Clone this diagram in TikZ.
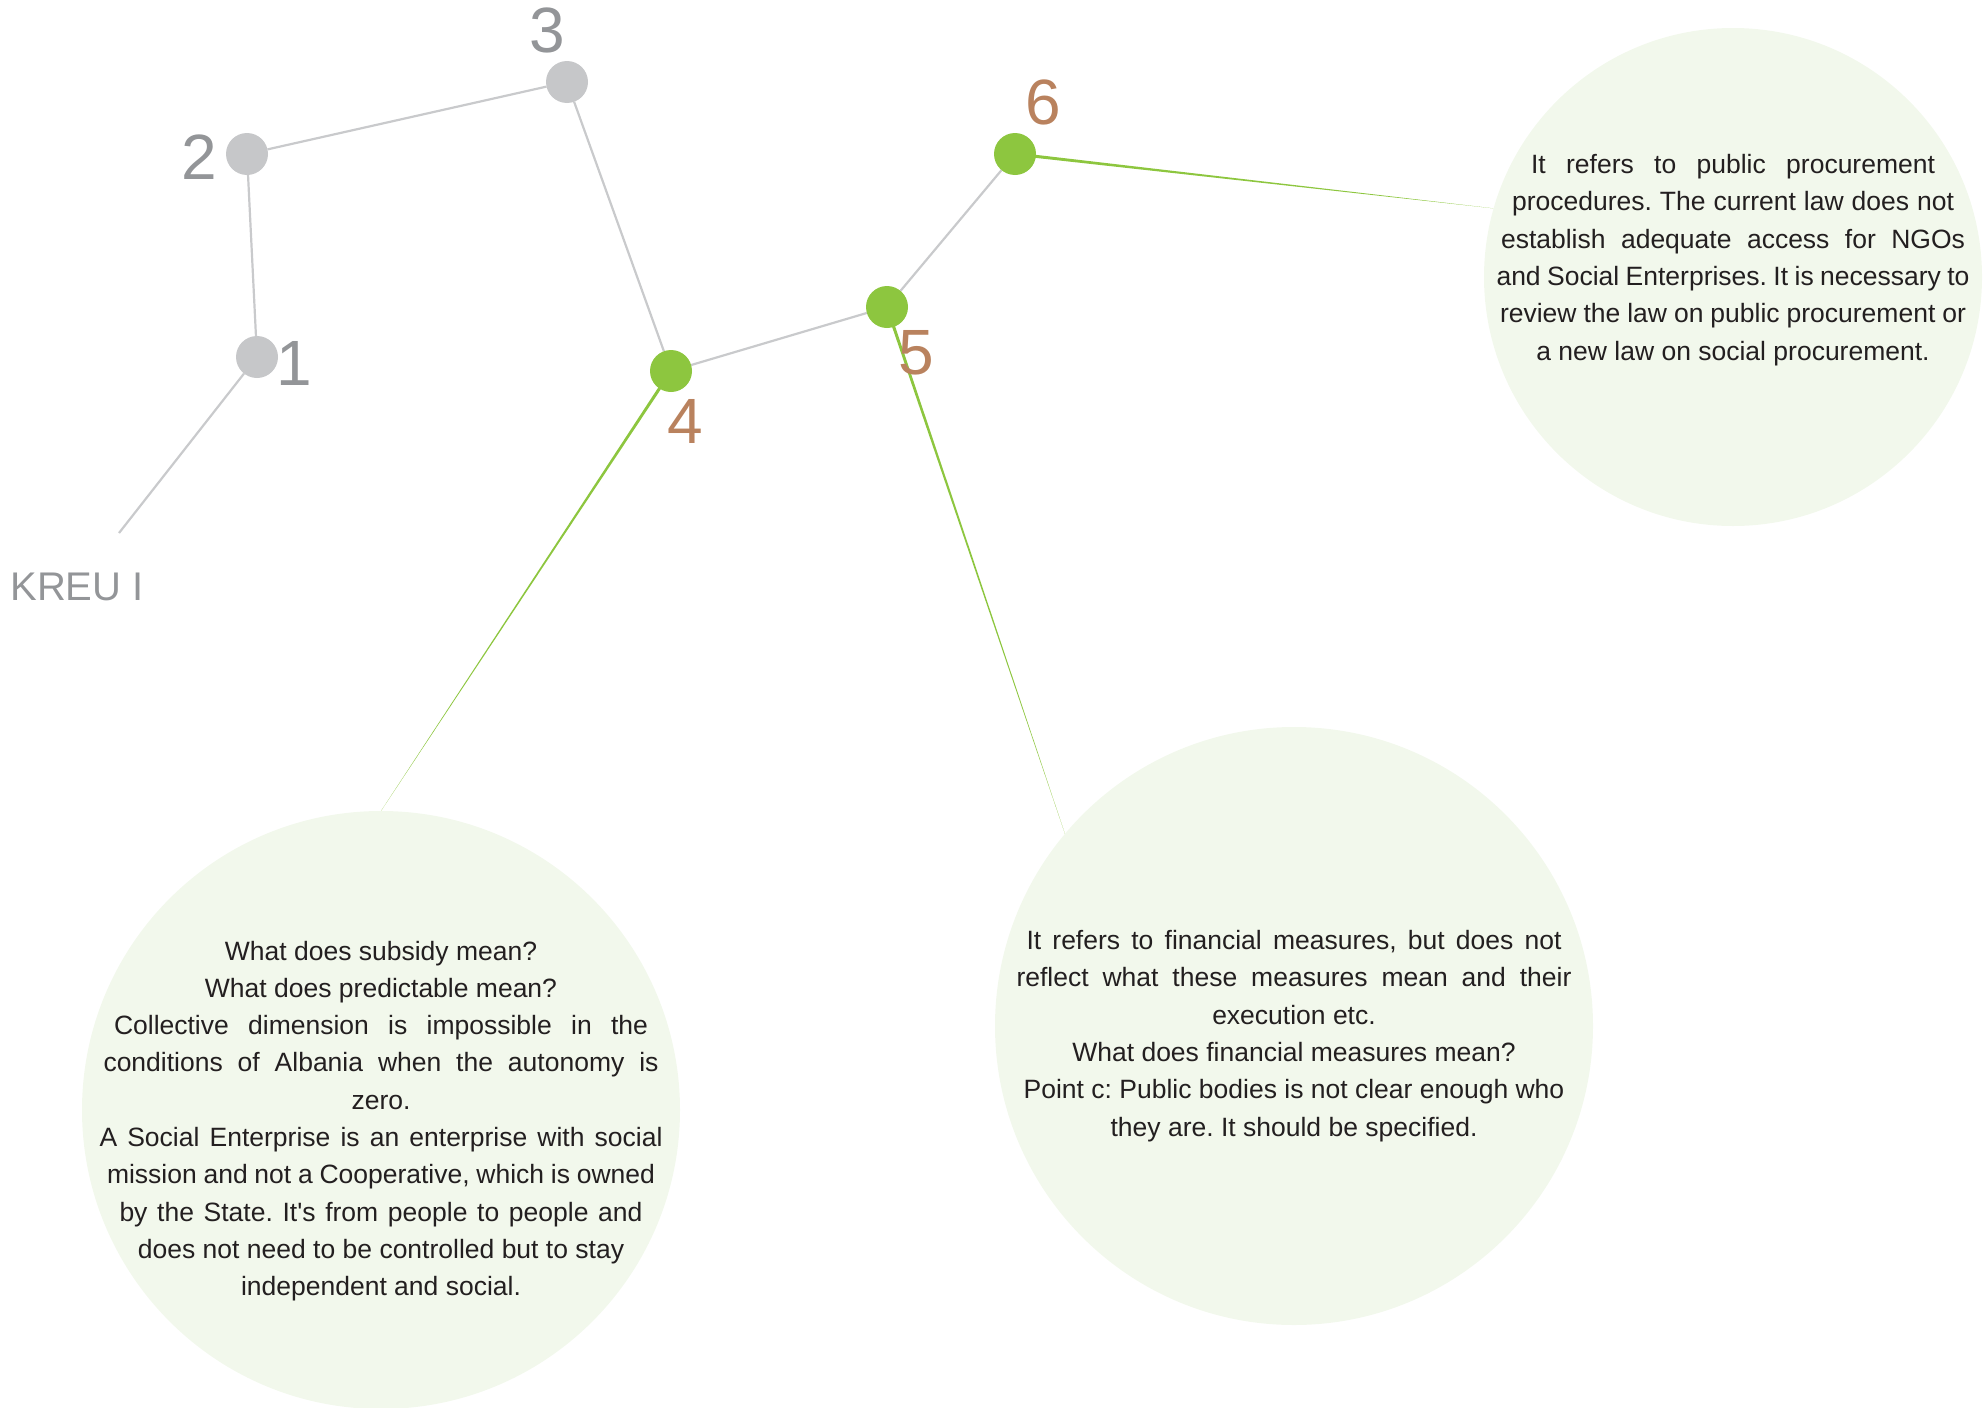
\documentclass[tikz,border=0pt]{standalone}
\usepackage{fontspec}
\setmainfont{Liberation Sans}
\usetikzlibrary{calc,backgrounds}
\definecolor{dotgray}{HTML}{C6C7C9}
\definecolor{linegray}{HTML}{C9CACC}
\definecolor{numgray}{HTML}{939598}
\definecolor{leaf}{HTML}{8DC63F}
\definecolor{clay}{HTML}{B9825E}
\definecolor{mist}{HTML}{F2F8EC}
\definecolor{ink}{HTML}{231F20}
\frenchspacing
\newcommand\fillline[2]{\makebox[#1][s]{#2}}
\newcommand\taper[2]{\fill[leaf] ($(#1)!1.6pt!90:(#2)$) -- ($(#1)!1.6pt!-90:(#2)$) -- (#2) -- cycle;}
\tikzset{
  dotg/.style  ={circle,fill=dotgray,minimum size=42pt,inner sep=0pt,outer sep=0pt},
  dotv/.style  ={dotg,fill=leaf},
  numg/.style  ={font=\fontsize{64}{64}\selectfont,text=numgray,inner sep=0pt},
  numv/.style  ={numg,text=clay},
  bubble/.style={circle,fill=mist,minimum size=598pt,inner sep=0pt,outer sep=0pt},
  note/.style  ={align=center,text=ink,font=\fontsize{26.5}{37.3}\selectfont,inner sep=0pt},
  link/.style  ={draw=linegray,line width=2.2pt},
}

\begin{document}
\begin{tikzpicture}[x=1pt,y=-1pt]
  \useasboundingbox (0,0) rectangle (1984,1408);

  % comment bubbles
  \node[bubble,minimum size=498pt] (bub6) at (1733,277) {};
  \node[bubble] (bub4) at (381,1110) {};
  \node[bubble] (bub5) at (1294,1026) {};

  % path of points
  \node[dotg] (n1) at (257,357) {};
  \node[dotg] (n2) at (247,154) {};
  \node[dotg] (n3) at (567,82)  {};
  \node[dotv] (n4) at (671,371) {};
  \node[dotv] (n5) at (887,307) {};
  \node[dotv] (n6) at (1015,154) {};
  \coordinate (start) at (119,533);

  \node[numg] at (294,363)  {1};
  \node[numg] at (199,157)  {2};
  \node[numg] at (547,30)   {3};
  \node[numv] at (685,421)  {4};
  \node[numv] at (916,353)  {5};
  \node[numv] at (1043,102) {6};

  \node[font=\fontsize{40}{40}\selectfont,text=numgray,inner sep=0pt] (kreu) at (77,587) {KREU I};

  \begin{scope}[on background layer]
    \draw[link] (start) -- (n1) -- (n2) -- (n3) -- (n4) -- (n5) -- (n6);
    \taper{n4}{bub4.north}
    \taper{n5}{bub5.140}
    \taper{n6}{bub6.164}
  \end{scope}

  \node[note] (t6) at (1733,260)
    {\fillline{404pt}{It refers to public procurement}\\
     \fillline{442pt}{procedures. The current law does not}\\
     \fillline{464pt}{establish adequate access for NGOs}\\
     \fillline{473pt}{and Social Enterprises. It is necessary to}\\
     \fillline{466pt}{review the law on public procurement or}\\
     a new law on social procurement.};

  \node[note] (t4) at (381,1121)
    {What does subsidy mean?\\
     What does predictable mean?\\
     \fillline{534pt}{Collective dimension is impossible in the}\\
     \fillline{555pt}{conditions of Albania when the autonomy is}\\
     zero.\\
     \fillline{563pt}{A Social Enterprise is an enterprise with social}\\
     \fillline{548pt}{mission and not a Cooperative, which is owned}\\
     \fillline{523pt}{by the State. It\textquotesingle s from people to people and}\\
     does not need to be controlled but to stay\\
     independent and social.};

  \node[note] (t5) at (1294,1036)
    {\fillline{535pt}{It refers to financial measures, but does not}\\
     \fillline{555pt}{reflect what these measures mean and their}\\
     execution etc.\\
     What does financial measures mean?\\
     Point c: Public bodies is not clear enough who\\
     they are. It should be specified.};
\end{tikzpicture}
\end{document}
